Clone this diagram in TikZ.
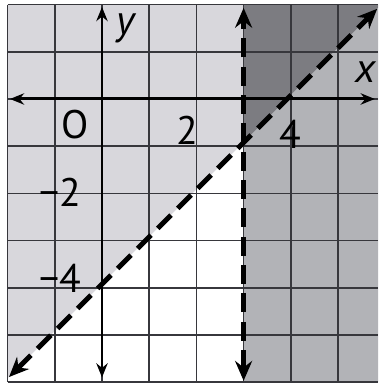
\documentclass[tikz,border=0pt]{standalone}
\usepackage{fontspec}
\setmainfont{PT Sans}
\usetikzlibrary{arrows.meta}
\definecolor{lightreg}{RGB}{216,215,220}
\definecolor{darkreg}{RGB}{124,124,129}
\definecolor{midreg}{RGB}{178,179,183}
\definecolor{gridc}{RGB}{55,55,60}
\tikzset{
  gridline/.style={gridc, line width=1pt},
  axisline/.style={black, line width=1.8pt, {Stealth[length=0.3cm,width=0.24cm]}-{Stealth[length=0.3cm,width=0.24cm]}},
  boundary/.style={black, line width=3pt, dash pattern=on 0.4cm off 0.2cm,
     {Stealth[length=0.42cm,width=0.36cm,inset=0.14cm]}-{Stealth[length=0.42cm,width=0.36cm,inset=0.14cm]}},
  ticklabel/.style={font=\fontsize{24}{24}\selectfont, inner sep=0pt},
  axislabel/.style={font=\fontsize{25}{25}\selectfont\itshape, inner sep=0pt}
}
\begin{document}
\begin{tikzpicture}
\useasboundingbox (-2.161,-6.017) rectangle (5.847,2.097);
\fill[white] (-2.161,-6.017) rectangle (5.847,2.097);
% shaded regions (boundary line y = x - 3.92, vertical x = 3)
\fill[lightreg] (-2,2) -- (3,2) -- (3,-0.92) -- (-2,-5.92) -- cycle;
\fill[white] (-2,-5.92) -- (3,-0.92) -- (3,-6) -- (-2,-6) -- cycle;
\fill[darkreg] (3,2) -- (3,-0.92) -- (5.847,1.927) -- (5.847,2) -- cycle;
\fill[midreg] (3,-0.92) -- (3,-6) -- (5.847,-6) -- (5.847,1.927) -- cycle;
% grid
\foreach \x in {-2,...,5} \draw[gridline] (\x,-6) -- (\x,2);
\foreach \y in {-6,...,2} \draw[gridline] (-2,\y) -- (5.847,\y);
% axes
\coordinate (xl) at (-1.95,0);
\coordinate (xr) at (5.78,0);
\coordinate (yb) at (0,-5.9);
\coordinate (yt) at (0,1.95);
\draw[axisline] (xl) -- (xr);
\draw[axisline] (yb) -- (yt);
% boundary lines
\coordinate (va) at (3,-5.97);
\coordinate (vb) at (3,1.93);
\coordinate (da) at (-1.97,-5.89);
\coordinate (db) at (5.83,1.91);
\draw[boundary] (va) -- (vb);
\draw[boundary] (da) -- (db);
% labels
\node[axislabel] (ylab) at (0.49,1.5) {y};
\node[axislabel] (xlab) at (5.59,0.57) {x};
\node[ticklabel] (o) at (-0.57,-0.55) {O};
\node[ticklabel] (t2) at (1.80,-0.66) {2};
\node[ticklabel] (t4) at (4.0,-0.74) {4};
\node[ticklabel] (tm2) at (-0.89,-1.97) {−2};
\node[ticklabel] (tm4) at (-0.89,-3.79) {−4};
\end{tikzpicture}
\end{document}
